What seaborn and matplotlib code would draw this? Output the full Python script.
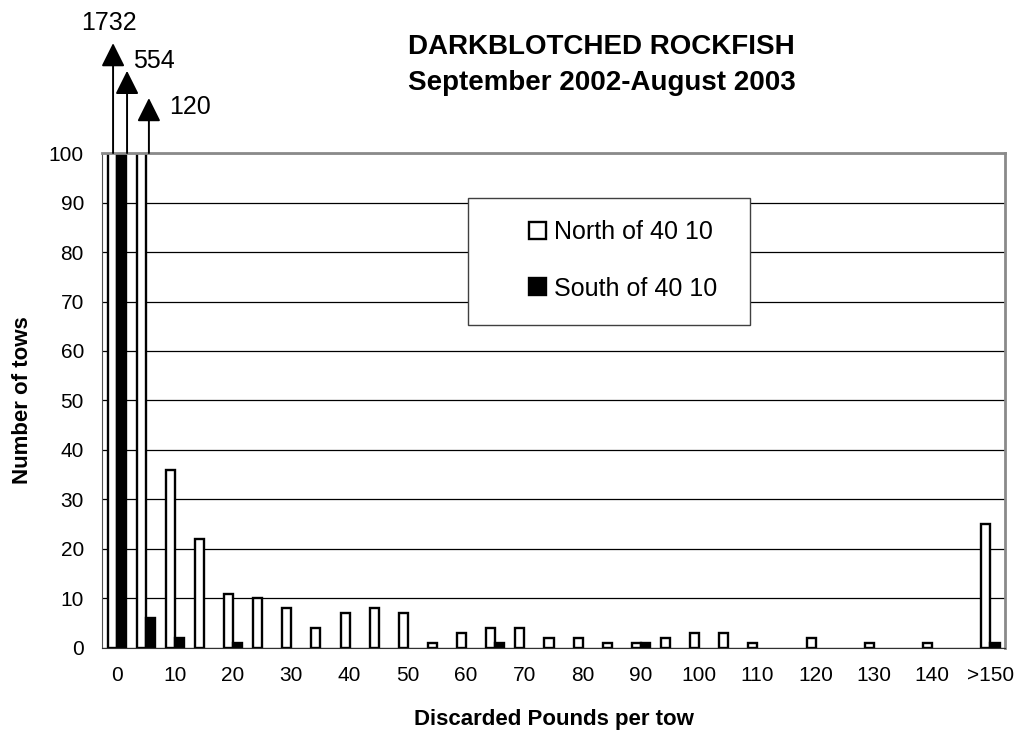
import pandas as pd
import matplotlib.pyplot as plt
from matplotlib.patches import Rectangle
import seaborn as sns

# datos (libras descartadas por lance, clases de 5 lb)
categorias = ['0', '5', '10', '15', '20', '25', '30', '35', '40', '45',
              '50', '55', '60', '65', '70', '75', '80', '85', '90', '95',
              '100', '105', '110', '115', '120', '125', '130', '135', '140', '145',
              '>150']
norte = [1732, 120, 36, 22, 11, 10, 8, 4, 7, 8,
         7, 1, 3, 4, 4, 2, 2, 1, 1, 2,
         3, 3, 1, 0, 2, 0, 1, 0, 1, 0,
         25]
sur = [554, 6, 2, 0, 1, 0, 0, 0, 0, 0,
       0, 0, 0, 1, 0, 0, 0, 0, 1, 0,
       0, 0, 0, 0, 0, 0, 0, 0, 0, 0,
       1]
etiquetas_x = ['0', '10', '20', '30', '40', '50', '60', '70', '80', '90',
               '100', '110', '120', '130', '140', '>150']
# valores fuera de escala con flecha
flechas_valor = ['1732', '554', '120']

lab_n = 'North of 40 10'
lab_s = 'South of 40 10'

df = pd.DataFrame({
    'cat': categorias * 2,
    'tows': norte + sur,
    'region': [lab_n] * len(norte) + [lab_s] * len(sur),
})

sns.set_style('white')
plt.rcParams['font.family'] = ['Liberation Sans', 'DejaVu Sans']
for k in ['text.color', 'axes.labelcolor', 'xtick.color', 'ytick.color']:
    plt.rcParams[k] = 'black'

fig = plt.figure(figsize=(10.19, 7.36), dpi=100)
ax = fig.add_axes([0.1001, 0.1196, 0.8862, 0.6725])

sns.barplot(data=df, x='cat', y='tows', hue='region', order=categorias,
            palette={lab_n: 'white', lab_s: 'black'}, edgecolor='black',
            linewidth=1.7, width=0.62, errorbar=None, ax=ax, zorder=2)

# barras en cero no se dibujan
for cont in ax.containers:
    for p in cont:
        if p.get_height() == 0:
            p.set_linewidth(0)

ax.set_ylim(0, 100)
ax.set_xlim(-0.5, len(categorias) - 0.5)
ax.set_yticks(range(0, 101, 10))
ax.yaxis.grid(True, color='black', lw=0.9)
ax.set_axisbelow(True)

# ticks en los limites de clase, etiquetas cada 10 lb
ax.set_xticks([i - 0.5 for i in range(len(categorias) + 1)])
ax.set_xticklabels([])
ax.set_xticks(range(0, len(categorias), 2), minor=True)
ax.set_xticklabels(etiquetas_x, minor=True)
ax.tick_params(axis='x', which='major', direction='out', length=4.5, width=1, color='#404040')
ax.tick_params(axis='x', which='minor', length=0, pad=13, labelsize=15)
ax.tick_params(axis='y', direction='out', length=5, width=1, color='#404040', pad=8, labelsize=15)

for s in ['top', 'right']:
    ax.spines[s].set_color('#8a8a8a')
    ax.spines[s].set_linewidth(2)
ax.spines['left'].set_color('#505050')
ax.spines['bottom'].set_color('#303030')

ax.set_xlabel('Discarded Pounds per tow', fontsize=16, fontweight='bold')
ax.set_ylabel('Number of tows', fontsize=16, fontweight='bold')
ax.xaxis.set_label_coords(0.5, -0.123)
ax.yaxis.set_label_coords(-0.0765, 0.5)

# leyenda con caja propia
handles, labels = ax.get_legend_handles_labels()
ax.get_legend().remove()
for h in handles:
    h.set_edgecolor('black')
    h.set_linewidth(1.7)
ax.add_patch(Rectangle((0.405, 0.653), 0.313, 0.256, transform=ax.transAxes,
                       facecolor='white', edgecolor='#404040', lw=1, zorder=4))
leg = ax.legend(handles, labels, loc='center', bbox_to_anchor=(0.577, 0.783),
                frameon=False, fontsize=18, handlelength=0.68, handleheight=0.68,
                handletextpad=0.3, labelspacing=1.3)
leg.set_zorder(5)

# flechas para las barras cortadas
pos_x = [-0.12, 0.36, 1.11]
punta_y = [122.2, 116.6, 111.1]
texto_xy = [(-1.22, 124.8), (0.55, 117.2), (1.79, 107.9)]
for x, y, (tx, ty), t in zip(pos_x, punta_y, texto_xy, flechas_valor):
    ax.annotate('', xy=(x, y), xytext=(x, 100), annotation_clip=False,
                arrowprops=dict(arrowstyle='-|>,head_width=0.36,head_length=0.72',
                                mutation_scale=20, color='black', lw=1.4,
                                shrinkA=0, shrinkB=0))
    ax.text(tx, ty, t, ha='left', va='baseline', fontsize=18, clip_on=False)

fig.text(601.5 / 1019, 1 - 54 / 736, 'DARKBLOTCHED ROCKFISH',
         ha='center', va='baseline', fontsize=20, fontweight='bold')
fig.text(601.5 / 1019, 1 - 90 / 736, 'September 2002-August 2003',
         ha='center', va='baseline', fontsize=20, fontweight='bold')

plt.savefig('out.png', dpi=100)
